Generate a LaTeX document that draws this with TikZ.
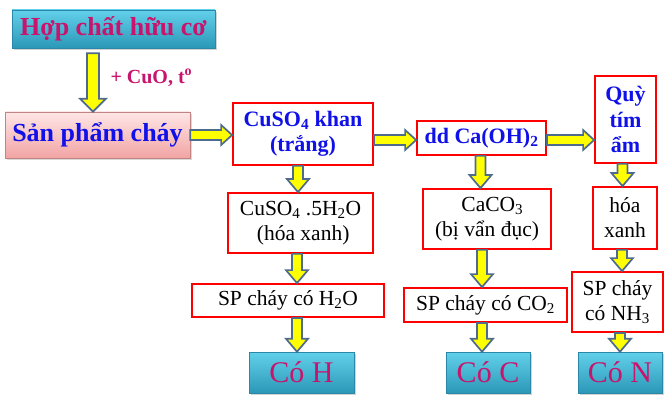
\documentclass[tikz,border=0pt]{standalone}
\usepackage{fontspec}
\setmainfont{Liberation Serif}
\usepackage{xcolor}
\usepackage{tikz}
\usetikzlibrary{positioning, shadows, calc}

\definecolor{boxred}{HTML}{FF0000}
\definecolor{txtblue}{HTML}{1010E8}
\definecolor{crim}{HTML}{C8146C}
\definecolor{tealtop}{HTML}{62D0EA}
\definecolor{tealbot}{HTML}{2C98B8}
\definecolor{tealedge}{HTML}{2A88A6}
\definecolor{pinktop}{HTML}{FFE6E6}
\definecolor{pinkbot}{HTML}{F2A4A4}
\definecolor{arrline}{HTML}{4E6A8C}
\definecolor{arryellow}{HTML}{FFFF00}

% fat block arrows: #2 = start, #3 = end, #1 = half shaft width
\newcommand{\arrdown}[3][5]{%
  \draw[fatarr] let \p1=(#2), \p2=(#3) in
    (\x1-#1pt,\y1) -- (\x1+#1pt,\y1) -- (\x1+#1pt,\y2+13pt) -- (\x1+2*#1pt+1pt,\y2+13pt)
    -- (\x1,\y2) -- (\x1-2*#1pt-1pt,\y2+13pt) -- (\x1-#1pt,\y2+13pt) -- cycle;}
\newcommand{\arrright}[2]{%
  \draw[fatarr] let \p1=(#1), \p2=(#2) in
    (\x1,\y1+5pt) -- (\x1,\y1-5pt) -- (\x2-11pt,\y1-5pt) -- (\x2-11pt,\y1-10pt)
    -- (\x2,\y1) -- (\x2-11pt,\y1+10pt) -- (\x2-11pt,\y1+5pt) -- cycle;}

\begin{document}
\begin{tikzpicture}[
    x=1pt, y=-1pt,
    redbox/.style={
        rectangle,
        draw=boxred,
        line width=1.8pt,
        fill=white,
        align=center,
        inner sep=0pt
    },
    tealbox/.style={
        rectangle,
        draw=tealedge,
        line width=0.5pt,
        top color=tealtop,
        bottom color=tealbot,
        drop shadow={opacity=0.35, shadow xshift=2pt, shadow yshift=-2pt},
        text=crim,
        inner sep=0pt,
        font=\fontsize{30}{32}\selectfont
    },
    fatarr/.style={draw=arrline, fill=arryellow, line width=1.7pt, line join=miter},
    bluetxt/.style={text=txtblue, font=\bfseries\fontsize{22}{25.5}\selectfont},
    blacktxt/.style={font=\fontsize{21.5}{25}\selectfont}
]
    \useasboundingbox (0,0) rectangle (666,403);

    % --- top ---
    \node [tealbox, minimum width=203pt, minimum height=38pt,
           font=\bfseries\fontsize{26}{28}\selectfont] (hchc) at (113.5,29) {Hợp chất hữu cơ};
    \node [rectangle, draw=pinkbot!80!black, line width=0.6pt, top color=pinktop, bottom color=pinkbot,
           drop shadow={opacity=0.3, shadow xshift=2pt, shadow yshift=-2pt},
           minimum width=185pt, minimum height=46pt, inner sep=0pt,
           text=txtblue, font=\bfseries\fontsize{26}{28}\selectfont] (spchay) at (97.5,135) {Sản phẩm cháy};
    \node [anchor=west, text=crim, font=\bfseries\fontsize{20}{22}\selectfont] (cuo) at (107,78) {+ CuO, t\textsuperscript{o}};

    % --- reagents ---
    \node [redbox, bluetxt, minimum width=140pt, minimum height=62pt] (khan) at (303,134) {CuSO\textsubscript{4} khan\\(trắng)};
    \node [redbox, bluetxt, minimum width=129pt, minimum height=34pt] (caoh) at (481.5,138) {dd Ca(OH)\textsubscript{2}};
    \node [redbox, bluetxt, minimum width=61pt, minimum height=87pt] (quy) at (625.5,119.5) {Quỳ\\tím\\ ẩm};

    % --- H column ---
    \node [redbox, blacktxt, minimum width=145pt, minimum height=60pt] (penta) at (300.5,223) {CuSO\textsubscript{4} .5H\textsubscript{2}O\\ \ (hóa xanh)};
    \node [redbox, blacktxt, minimum width=192pt, minimum height=33pt] (sph) at (288,300.5) {SP cháy có H\textsubscript{2}O};
    \node [tealbox, minimum width=105pt, minimum height=41pt] (coh) at (301.5,372.5) {Có H};

    % --- C column ---
    \node [redbox, blacktxt, minimum width=128pt, minimum height=60pt] (caco) at (487,219) {\ \ CaCO\textsubscript{3}\\(bị vẩn đục)};
    \node [redbox, blacktxt, minimum width=163pt, minimum height=34pt] (spc) at (485.5,305) {SP cháy có CO\textsubscript{2}};
    \node [tealbox, minimum width=84pt, minimum height=41pt] (coc) at (488,372.5) {Có C};

    % --- N column ---
    \node [redbox, blacktxt, minimum width=64pt, minimum height=62pt] (hoax) at (625,218) {hóa\\xanh};
    \node [redbox, blacktxt, minimum width=91pt, minimum height=60pt] (spn) at (617.5,302) {SP cháy\\có NH\textsubscript{3}};
    \node [tealbox, minimum width=84pt, minimum height=41pt] (con) at (620,372.5) {Có N};

    % --- arrows ---
    \arrdown[6]{[xshift=-20.5pt, yshift=-5pt]hchc.south}{[xshift=-4.5pt]spchay.north}
    \arrright{spchay.east}{khan.west}
    \arrright{[yshift=-6pt]khan.east}{caoh.west}
    \arrright{[yshift=-2pt]caoh.east}{quy.west}

    \arrdown{[xshift=-5pt]khan.south}{penta.north}
    \arrdown{[xshift=-3.5pt]penta.south}{sph.north}
    \arrdown{[xshift=9pt]sph.south}{coh.north}

    \arrdown{[xshift=-1pt]caoh.south}{caco.north}
    \arrdown{[xshift=-5pt]caco.south}{spc.north}
    \arrdown{[xshift=-3.5pt]spc.south}{coc.north}

    \arrdown{[xshift=-3pt]quy.south}{hoax.north}
    \arrdown{[xshift=-3pt]hoax.south}{spn.north}
    \arrdown{[xshift=2.5pt]spn.south}{con.north}
\end{tikzpicture}
\end{document}
